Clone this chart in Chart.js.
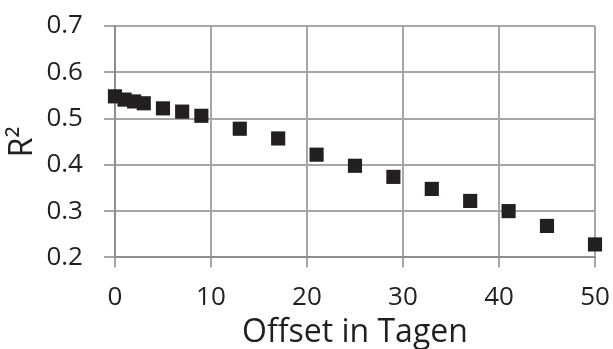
<!DOCTYPE html>
<html>
<head>
<meta charset="utf-8">
<script src="https://cdn.jsdelivr.net/npm/chart.js@4"></script>
<style>
  body { margin: 0; background: #fff; }
</style>
</head>
<body>
<canvas id="chart" width="613" height="349"></canvas>
<script>
// offset in days and R² values
const offsets = [0, 1, 2, 3, 5, 7, 9, 13, 17, 21, 25, 29, 33, 37, 41, 45, 50];
const r2 = [0.548, 0.541, 0.537, 0.533, 0.522, 0.515, 0.506, 0.478, 0.457, 0.422, 0.398, 0.374, 0.348, 0.322, 0.300, 0.268, 0.228];

const points = offsets.map((x, i) => ({ x: x, y: r2[i] }));

const textColor = '#231f20';
const gridColor = '#a6a6a6';
const axisColor = '#8e8e8e';

new Chart(document.getElementById('chart'), {
    type: 'scatter',
    data: {
        datasets: [{
            label: 'R2',
            data: points,
            pointStyle: 'rect',
            pointRadius: 10,
            pointHoverRadius: 10,
            backgroundColor: '#231f20',
            borderColor: '#231f20',
            borderWidth: 0,
            clip: false
        }]
    },
    options: {
        responsive: false,
        animation: false,
        layout: { padding: 0 },
        plugins: {
            legend: { display: false },
            tooltip: { enabled: false }
        },
        scales: {
            x: {
                type: 'linear',
                min: 0,
                max: 50,
                // the tick padding would be added to the right margin too
                afterFit: scale => { scale.paddingRight = 18; },
                ticks: {
                    stepSize: 10,
                    color: textColor,
                    font: { family: 'Open Sans', size: 26 },
                    padding: 15
                },
                grid: { color: gridColor, lineWidth: 2, tickLength: 10 },
                border: { color: axisColor, width: 2 },
                title: {
                    display: true,
                    text: 'Offset in Tagen',
                    color: textColor,
                    font: { family: 'Open Sans', size: 32 },
                    // tick padding counts twice in the axis size, take it back here
                    padding: { top: -15, bottom: -3 }
                }
            },
            y: {
                min: 0.2,
                max: 0.7,
                afterFit: scale => { scale.paddingTop = 26; },
                ticks: {
                    stepSize: 0.1,
                    color: textColor,
                    font: { family: 'Open Sans', size: 26 },
                    padding: 21,
                    callback: v => v.toFixed(1)
                },
                grid: { color: gridColor, lineWidth: 2, tickLength: 11 },
                border: { color: axisColor, width: 2 },
                title: {
                    display: true,
                    text: 'R²',
                    color: textColor,
                    font: { family: 'Open Sans', size: 32 },
                    padding: { top: 4, bottom: -17 }
                }
            }
        }
    }
});
</script>
</body>
</html>
